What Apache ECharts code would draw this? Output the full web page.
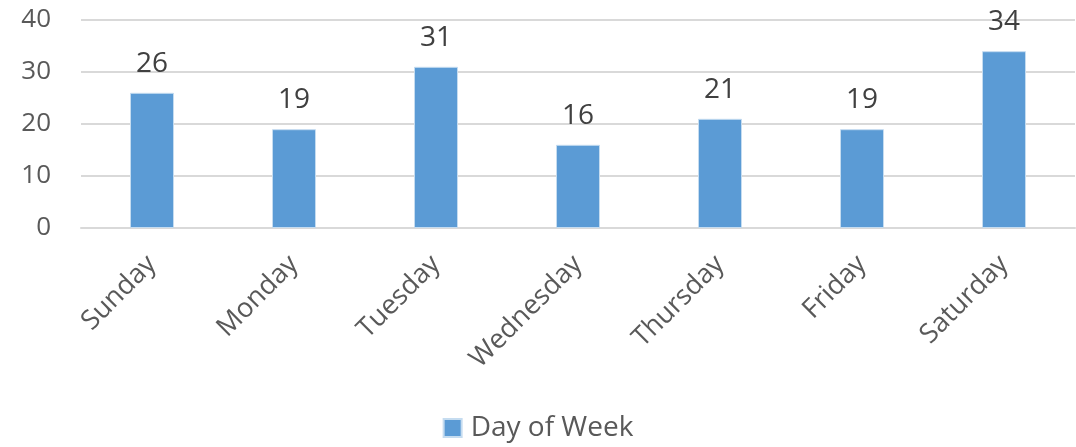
<!DOCTYPE html>
<html>
<head>
<meta charset="utf-8">
<script src="https://cdn.jsdelivr.net/npm/echarts@6/dist/echarts.min.js"></script>
<style>
  html, body { margin: 0; padding: 0; background: #fff; }
  #chart { width: 1076px; height: 447px; }
</style>
</head>
<body>
<div id="chart"></div>
<script>
// data
const days = ['Sunday', 'Monday', 'Tuesday', 'Wednesday', 'Thursday', 'Friday', 'Saturday'];
const counts = [26, 19, 31, 16, 21, 19, 34];
const seriesName = 'Day of Week';

const font = '"Open Sans", sans-serif';
const chart = echarts.init(document.getElementById('chart'));

chart.setOption({
  animation: false,
  textStyle: { fontFamily: font },
  grid: { left: 81, right: 1, top: 20, bottom: 219, containLabel: false },
  legend: {
    bottom: 0,
    left: 'center',
    itemWidth: 18,
    itemHeight: 18,
    icon: 'rect',
    textStyle: { fontSize: 28, color: '#595959', fontFamily: font, padding: [0, 0, 0, 4] },
    data: [seriesName]
  },
  xAxis: {
    type: 'category',
    data: days,
    axisLine: { show: true, lineStyle: { color: '#d9d9d9', width: 2 } },
    axisTick: { show: false },
    axisLabel: {
      rotate: 45,
      margin: 32,
      fontSize: 27,
      color: '#595959',
      fontFamily: font
    }
  },
  yAxis: {
    type: 'value',
    min: 0,
    max: 40,
    interval: 10,
    axisLine: { show: false },
    axisTick: { show: false },
    splitLine: { lineStyle: { color: '#d9d9d9', width: 2 } },
    axisLabel: { fontSize: 26, color: '#595959', margin: 30, fontFamily: font }
  },
  series: [{
    name: seriesName,
    type: 'bar',
    data: counts,
    barWidth: 44,
    itemStyle: { color: '#5b9bd5', borderColor: '#c5dcf0', borderWidth: 1 },
    label: {
      show: true,
      position: 'top',
      distance: 15,
      fontSize: 28,
      color: '#404040',
      fontFamily: font
    }
  }]
});
</script>
</body>
</html>
